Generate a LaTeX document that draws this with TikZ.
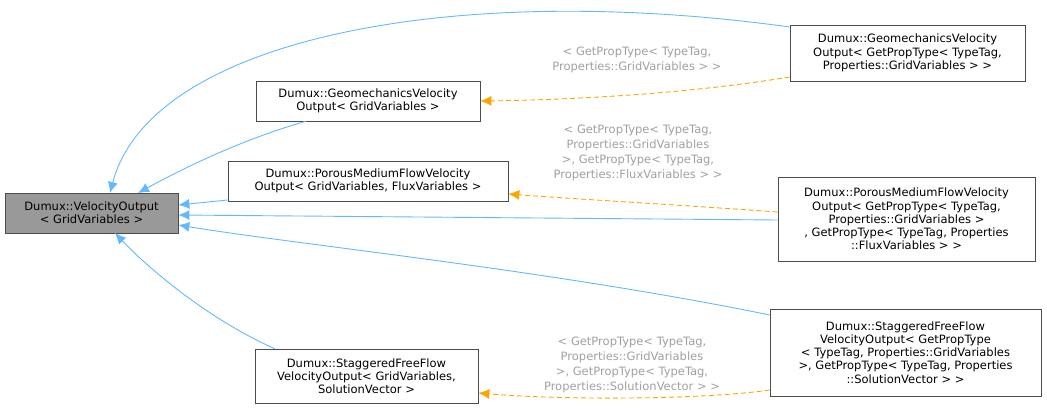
\documentclass[tikz,border=0pt]{standalone}
\usepackage{fontspec}
\setmainfont{DejaVu Sans}
\usetikzlibrary{arrows.meta, positioning}
\definecolor{edgeblue}{RGB}{99,184,255}
\definecolor{edgeorange}{RGB}{255,165,0}
\definecolor{labelgray}{RGB}{160,160,160}
\definecolor{boxgray}{RGB}{153,153,153}
\tikzset{
  cls/.style={rectangle, draw=gray!60!black, fill=white, align=center,
    inner sep=2pt, line width=0.7pt, font=\fontsize{11.5}{13.2}\selectfont},
  inherit/.style={draw=edgeblue, line width=0.9pt, -{Latex[length=11pt,width=10pt]}},
  tmpl/.style={draw=edgeorange, line width=0.9pt, dash pattern=on 5pt off 3pt,
    -{Latex[length=11pt,width=10pt]}},
  lbl/.style={text=labelgray, align=center, font=\fontsize{11.5}{15}\selectfont}
}
\begin{document}
\begin{tikzpicture}[x=1pt, y=-1pt]
    \useasboundingbox (0,0) rectangle (1047,409);
    \node (base) [cls, fill=boxgray, minimum width=173, minimum height=40] at (91.5,213)
        {Dumux::VelocityOutput\\< GridVariables >};
    \node (geo) [cls, minimum width=224, minimum height=40] at (368,101)
        {Dumux::GeomechanicsVelocity\\Output< GridVariables >};
    \node (pmf) [cls, minimum width=280, minimum height=40] at (368,181)
        {Dumux::PorousMediumFlowVelocity\\Output< GridVariables, FluxVariables >};
    \node (sff) [cls, minimum width=223, minimum height=54] at (366.5,376)
        {Dumux::StaggeredFreeFlow\\VelocityOutput< GridVariables,\\SolutionVector >};
    \node (geoT) [cls, minimum width=235, minimum height=56] at (907.5,53)
        {Dumux::GeomechanicsVelocity\\Output< GetPropType< TypeTag,\\Properties::GridVariables > >};
    \node (pmfT) [cls, minimum width=257, minimum height=84] at (906.5,219)
        {Dumux::PorousMediumFlowVelocity\\Output< GetPropType< TypeTag,\\Properties::GridVariables >\\, GetPropType< TypeTag, Properties\\::FluxVariables > >};
    \node (sffT) [cls, minimum width=271, minimum height=87] at (905.5,352.5)
        {Dumux::StaggeredFreeFlow\\VelocityOutput< GetPropType\\< TypeTag, Properties::GridVariables\\>, GetPropType< TypeTag, Properties\\::SolutionVector > >};

    % inheritance
    \draw [inherit] (geoT.west |- 0,27) .. controls (450,-20) and (150,40) .. (110,193);
    \draw [inherit] (geo.south west) ++(50,0) .. controls (240,140) and (180,170) .. (138,193);
    \draw [inherit] (pmf.west |- 0,200) -- (base.east |- 0,205);
    \draw [inherit] (pmfT.west |- 0,220) -- (base.east |- 0,215);
    \draw [inherit] (sffT.west |- 0,315) .. controls (550,270) and (300,245) .. (base.east |- 0,225);
    \draw [inherit] (sff.north west) ++(20,0) .. controls (210,320) and (150,270) .. (115,233);

    % template instances
    \draw [tmpl] (geoT.west |- 0,77) .. controls (680,95) and (560,100) .. (geo.east);
    \draw [tmpl] (pmfT.west |- 0,212) .. controls (680,205) and (560,198) .. (pmf.east |- 0,194);
    \draw [tmpl] (sffT.west |- 0,390) .. controls (700,400) and (560,400) .. (sff.east |- 0,393);

    \node (l1) [lbl] at (637,60) {< GetPropType< TypeTag,\\Properties::GridVariables > >};
    \node (l2) [lbl] at (638,153) {< GetPropType< TypeTag,\\Properties::GridVariables\\>, GetPropType< TypeTag,\\Properties::FluxVariables > >};
    \node (l3) [lbl] at (632,365) {< GetPropType< TypeTag,\\Properties::GridVariables\\>, GetPropType< TypeTag,\\Properties::SolutionVector > >};
\end{tikzpicture}
\end{document}
